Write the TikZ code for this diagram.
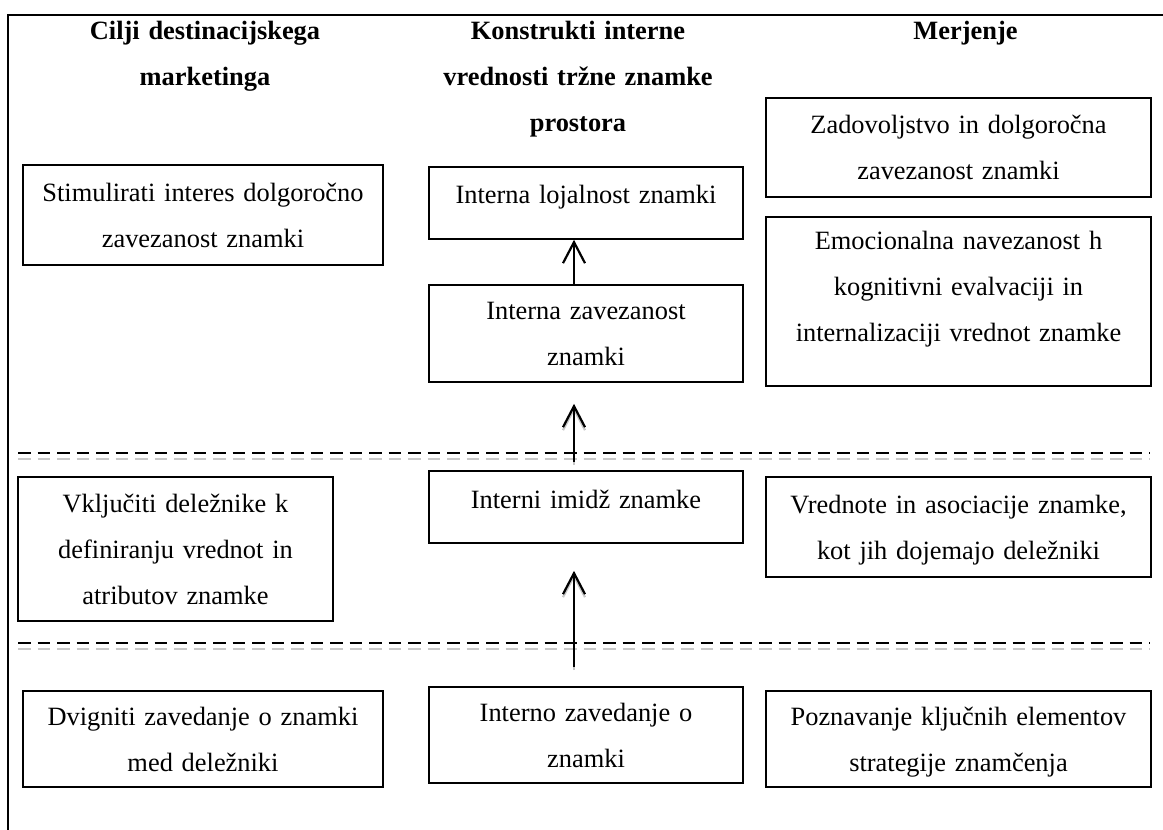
\documentclass[tikz,border=0pt]{standalone}
\usepackage{fontspec}
\setmainfont{Liberation Serif}
\usetikzlibrary{arrows.meta}
\definecolor{shade}{HTML}{C8C8C8}
\begin{document}
\begin{tikzpicture}[x=1pt,y=-1pt,
  txt/.style={font=\fontsize{26.4}{46}\selectfont, align=center, inner sep=0pt,
    execute at begin node=\strut, execute at end node=\strut},
  head/.style={txt, font=\fontsize{26.4}{46}\selectfont\bfseries, anchor=north},
  box/.style={txt, draw, line width=1.6pt},
  frameline/.style={line width=2.4pt},
  sepline/.style={line width=2.8pt, dash pattern=on 12.5pt off 7pt},
  sepshade/.style={sepline, draw=shade},
  arr/.style={line width=2.2pt, -{Straight Barb[length=21pt,width=22pt]}},
  arrshade/.style={arr, draw=shade, transform canvas={yshift=-3pt}}
]
\useasboundingbox (0,0) rectangle (1163,830);

% outer frame (top and left rules)
\coordinate (fl) at (8,15);
\coordinate (fr) at (1163,15);
\coordinate (fb) at (8,830);
\draw[frameline] (fb) -- (fl) -- (fr);

% column headings
\node[head, text width=340pt] (h1) at (205,6.8) {Cilji destinacijskega\\marketinga};
\node[head, text width=340pt] (h2) at (578,6.8) {Konstrukti interne\\vrednosti tržne znamke\\prostora};
\node[head, text width=340pt] (h3) at (965.5,6.8) {Merjenje};

% upper band
\node[box, minimum width=360pt, minimum height=100pt, text width=350pt] (stim) at (203,215)
  {Stimulirati interes dolgoročno\\zavezanost znamki};
\node[box, minimum width=314pt, minimum height=72pt, text width=304pt, text depth=31.8pt] (loj) at (586,203)
  {Interna lojalnost znamki};
\node[box, minimum width=314pt, minimum height=97pt, text width=304pt] (zav) at (586,333.5)
  {Interna zavezanost\\znamki};
\node[box, minimum width=385pt, minimum height=99pt, text width=375pt] (zad) at (958.5,147.5)
  {Zadovoljstvo in dolgoročna\\zavezanost znamki};
\node[box, minimum width=385pt, minimum height=169pt, text width=375pt, text depth=135.8pt] (emo) at (958.5,301.5)
  {Emocionalna navezanost h\\kognitivni evalvaciji in\\internalizaciji vrednot znamke};

% middle band
\node[box, minimum width=315pt, minimum height=144pt, text width=305pt] (vkl) at (175.5,549)
  {Vključiti deležnike k\\definiranju vrednot in\\atributov znamke};
\node[box, minimum width=314pt, minimum height=72pt, text width=304pt, text depth=29.8pt] (imi) at (586,507)
  {Interni imidž znamke};
\node[box, minimum width=385pt, minimum height=100pt, text width=375pt] (vre) at (958.5,527)
  {Vrednote in asociacije znamke,\\kot jih dojemajo deležniki};

% lower band
\node[box, minimum width=360pt, minimum height=96pt, text width=350pt] (dvi) at (203,739)
  {Dvigniti zavedanje o znamki\\med deležniki};
\node[box, minimum width=314pt, minimum height=96pt, text width=304pt] (int) at (586,735)
  {Interno zavedanje o\\znamki};
\node[box, minimum width=385pt, minimum height=96pt, text width=375pt] (poz) at (958.5,739)
  {Poznavanje ključnih elementov\\strategije znamčenja};

% dashed separators between the bands
\coordinate (s1l) at (18,453);
\coordinate (s1r) at (1150,453);
\coordinate (s2l) at (18,643);
\coordinate (s2r) at (1150,643);
\draw[sepshade] ([yshift=-6pt]s1l) -- ([yshift=-6pt]s1r);
\draw[sepshade] ([yshift=-6pt]s2l) -- ([yshift=-6pt]s2r);
\draw[sepline] (s1l) -- (s1r);
\draw[sepline] (s2l) -- (s2r);

% upward arrows between the constructs
\draw[arrshade, shorten <=19pt, shorten >=27pt] ([xshift=-12pt]int.north) -- ([xshift=-12pt]imi.south);
\draw[arrshade, shorten <=8pt, shorten >=21pt] ([xshift=-12pt]imi.north) -- ([xshift=-12pt]zav.south);
\draw[arr] ([xshift=-12pt]zav.north) -- ([xshift=-12pt]loj.south);
\draw[arr, shorten <=8pt, shorten >=21pt] ([xshift=-12pt]imi.north) -- ([xshift=-12pt]zav.south);
\draw[arr, shorten <=19pt, shorten >=27pt] ([xshift=-12pt]int.north) -- ([xshift=-12pt]imi.south);
\end{tikzpicture}
\end{document}
